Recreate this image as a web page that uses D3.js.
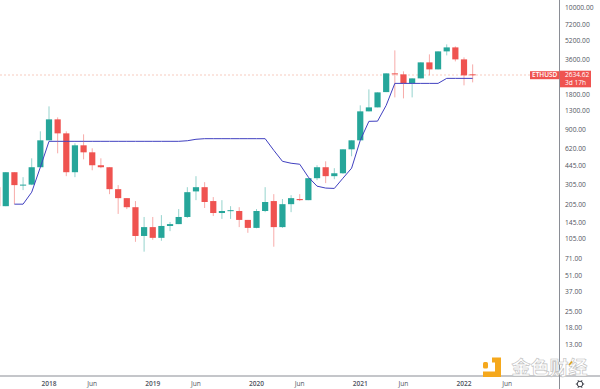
<!DOCTYPE html>
<html>
<head>
<meta charset="utf-8">
<script src="https://cdn.jsdelivr.net/npm/d3@7"></script>
<style>
  html, body { margin: 0; padding: 0; background: #fff; }
  text { font-family: "Open Sans", sans-serif; }
</style>
</head>
<body>
<div id="chart"></div>
<script>
// Monthly ETHUSD candles
var months = ["2017-07","2017-08","2017-09","2017-10","2017-11","2017-12",
  "2018-01","2018-02","2018-03","2018-04","2018-05","2018-06","2018-07","2018-08","2018-09","2018-10","2018-11","2018-12",
  "2019-01","2019-02","2019-03","2019-04","2019-05","2019-06","2019-07","2019-08","2019-09","2019-10","2019-11","2019-12",
  "2020-01","2020-02","2020-03","2020-04","2020-05","2020-06","2020-07","2020-08","2020-09","2020-10","2020-11","2020-12",
  "2021-01","2021-02","2021-03","2021-04","2021-05","2021-06","2021-07","2021-08","2021-09","2021-10","2021-11","2021-12",
  "2022-01","2022-02"];
var opens = [288,198,387,300,303,427,
  726,1098,833,387,658,573,444,427,277,232,194,110,
  131,106,134,139,160,265,288,219,173,180,180,151,
  129,180,219,131,206,228,223,344,427,358,379,608,
  726,1286,1391,1880,2721,2668,2233,2465,3380,2944,4199,4543,
  3586,2670];
var highs = [300,387,387,351,509,867,
  1419,1142,867,685,817,620,509,427,300,232,219,160,
  160,166,145,187,288,358,318,237,223,198,194,151,
  187,288,251,228,246,251,344,444,480,419,608,726,
  1447,1984,1870,2721,4282,2830,2465,3380,3957,4199,4820,4634,
  3730,3249];
var lows = [190,198,206,272,300,427,
  726,562,358,351,499,402,419,251,170,187,98,80.7,
  102,100,121,139,157,223,191,163,154,154,131,117,
  128,176,89,129,176,219,223,331,312,337,375,530,
  726,1286,1391,1880,1694,1661,1694,2465,2615,2944,3880,3447,
  2147,2278];
var closes = [198,387,300,303,427,726,
  1098,833,387,658,573,444,427,277,232,194,110,131,
  106,134,139,160,261,288,215,173,180,183,151,129,
  180,215,131,206,232,223,344,427,358,379,608,726,
  1286,1391,1870,2721,2668,2233,2465,3380,2944,4199,4543,3586,
  2615,2634.62];
// Blue trailing line, null before it starts
var trail = [null,null,206,206,261,427,
  712,712,712,712,712,712,712,712,712,712,712,712,
  712,712,712,712,720,741,750,750,750,750,750,750,
  750,750,596,480,462,453,351,294,283,281,344,419,
  726,1056,1060,1447,2233,2233,2233,2233,2233,2233,2465,2465,
  2465,2465];

// Axis labels
var priceTicks = [10000,7200,5200,3600,1800,1300,900,620,445,305,205,145,105,71,51,37,25,18,13];
var timeTicks = [["2018-01","2018"],["2018-06","Jun"],["2019-01","2019"],["2019-06","Jun"],
  ["2020-01","2020"],["2020-06","Jun"],["2021-01","2021"],["2021-06","Jun"],["2022-01","2022"],["2022-06","Jun"]];
var lastPrice = 2634.62;

var width = 600, height = 389;
var plotRight = 559.5, plotBottom = 376;
var upColor = "#26a69a", downColor = "#ef5350", lineColor = "#4040c0", axisColor = "#8a8d95", labelColor = "#50535e";

var svg = d3.select("#chart").append("svg")
  .attr("width", width)
  .attr("height", height)
  .attr("viewBox", "0 0 " + width + " " + height);

// Month position, months run on past the last candle for the Jun 2022 tick
function monthIndex(m) {
  var p = m.split("-");
  return (+p[0]) * 12 + (+p[1]) - 1;
}
var x = d3.scaleLinear()
  .domain([monthIndex("2018-01"), monthIndex("2022-01")])
  .range([49, 464]);
var y = d3.scaleLog()
  .domain([10000, 13])
  .range([7.4, 344.2]);

var candles = months.map(function (m, i) {
  return { month: m, o: opens[i], h: highs[i], l: lows[i], c: closes[i], t: trail[i] };
});

// Last price dashed line
svg.append("line")
  .attr("x1", 0).attr("x2", 530)
  .attr("y1", y(lastPrice)).attr("y2", y(lastPrice))
  .attr("stroke", "#f0a48c")
  .attr("stroke-opacity", 0.7)
  .attr("stroke-width", 0.8)
  .attr("stroke-dasharray", "2,2");

// Candles
var bodyWidth = 6.2;
var candle = svg.append("g").selectAll("g")
  .data(candles)
  .enter().append("g")
  .attr("fill", function (d) { return d.c >= d.o ? upColor : downColor; })
  .attr("stroke", function (d) { return d.c >= d.o ? upColor : downColor; });

candle.append("line")
  .attr("x1", function (d) { return x(monthIndex(d.month)); })
  .attr("x2", function (d) { return x(monthIndex(d.month)); })
  .attr("y1", function (d) { return y(d.h); })
  .attr("y2", function (d) { return y(d.l); })
  .attr("stroke-opacity", 0.55)
  .attr("stroke-width", 0.9);

candle.append("rect")
  .attr("x", function (d) { return x(monthIndex(d.month)) - bodyWidth / 2; })
  .attr("y", function (d) { return Math.min(y(d.o), y(d.c)); })
  .attr("width", bodyWidth)
  .attr("height", function (d) { return Math.max(1, Math.abs(y(d.o) - y(d.c))); })
  .attr("stroke", "none");

// Trailing line
var trailLine = d3.line()
  .defined(function (d) { return d.t !== null; })
  .x(function (d) { return x(monthIndex(d.month)); })
  .y(function (d) { return y(d.t); });
svg.append("path")
  .datum(candles.filter(function (d) { return d.t !== null; }))
  .attr("fill", "none")
  .attr("stroke", lineColor)
  .attr("stroke-width", 1)
  .attr("d", trailLine);

// Axis borders
svg.append("line").attr("x1", plotRight).attr("x2", plotRight).attr("y1", 0).attr("y2", height)
  .attr("stroke", axisColor).attr("stroke-width", 1);
svg.append("line").attr("x1", 0).attr("x2", width).attr("y1", plotBottom).attr("y2", plotBottom)
  .attr("stroke", axisColor).attr("stroke-width", 1);

// Price labels
var yAxis = d3.axisRight(y)
  .tickValues(priceTicks)
  .tickSize(0)
  .tickPadding(0)
  .tickFormat(function (d) { return d.toFixed(2); });
var yAxisG = svg.append("g")
  .attr("transform", "translate(565,0)")
  .call(yAxis);
yAxisG.select(".domain").remove();
yAxisG.selectAll("text")
  .attr("fill", labelColor)
  .style("font-size", "6.7px");

// Time labels
var timeG = svg.append("g");
timeG.selectAll("text")
  .data(timeTicks)
  .enter().append("text")
  .attr("x", function (d) { return x(monthIndex(d[0])); })
  .attr("y", 386)
  .attr("text-anchor", "middle")
  .attr("fill", labelColor)
  .style("font-size", "6.6px")
  .style("font-weight", function (d) { return d[1] === "Jun" ? 400 : 600; })
  .text(function (d) { return d[1]; });

// Last price tags
var tagY = y(lastPrice);
svg.append("rect")
  .attr("x", 530).attr("y", tagY - 3.8).attr("width", 29.5).attr("height", 8)
  .attr("fill", downColor);
svg.append("text")
  .attr("x", 544.7).attr("y", tagY + 2.4)
  .attr("text-anchor", "middle")
  .attr("fill", "#fff")
  .style("font-size", "6.5px")
  .style("font-weight", 600)
  .text("ETHUSD");
svg.append("rect")
  .attr("x", 560).attr("y", tagY - 4.3).attr("width", 31).attr("height", 16.6)
  .attr("fill", downColor);
svg.append("text")
  .attr("x", 565).attr("y", tagY + 2.4)
  .attr("fill", "#fff")
  .style("font-size", "6.6px")
  .text(lastPrice.toFixed(2));
svg.append("text")
  .attr("x", 565).attr("y", tagY + 10.3)
  .attr("fill", "#fff")
  .style("font-size", "6.6px")
  .text("3d 17h");

// Settings gear
var gear = svg.append("g").attr("transform", "translate(580,384)");
gear.append("circle").attr("r", 2.8).attr("fill", "none").attr("stroke", "#3a3d46").attr("stroke-width", 1);
gear.selectAll("line")
  .data(d3.range(6))
  .enter().append("line")
  .attr("x1", 2.6).attr("x2", 4.2)
  .attr("transform", function (d) { return "rotate(" + d * 60 + ")"; })
  .attr("stroke", "#3a3d46")
  .attr("stroke-width", 1);

// Watermark
var mark = svg.append("g").attr("transform", "translate(483,357)");
mark.append("path")
  .attr("d", "M9 0.5h9v19.5h-18v-5.5h12v-9h-3z")
  .attr("fill", "#f5a81c");
mark.append("rect").attr("x", 0).attr("y", 5).attr("width", 5).attr("height", 6.5).attr("rx", 1.5).attr("fill", "#f5a81c");
mark.append("text")
  .attr("x", 28.5).attr("y", 18)
  .attr("fill", "#fff")
  .attr("stroke", "#bdbdbd")
  .attr("stroke-width", 0.6)
  .style("font-family", "'Noto Sans CJK SC'")
  .style("font-size", "19px")
  .style("font-weight", 700)
  .text("金色财经");
// Orange trace where the covered axis label shows through
mark.append("path")
  .attr("d", "M85.5 7.5l3 -3.5l1.2 1l-3 3.5z")
  .attr("fill", "#d9a21b");
</script>
</body>
</html>
